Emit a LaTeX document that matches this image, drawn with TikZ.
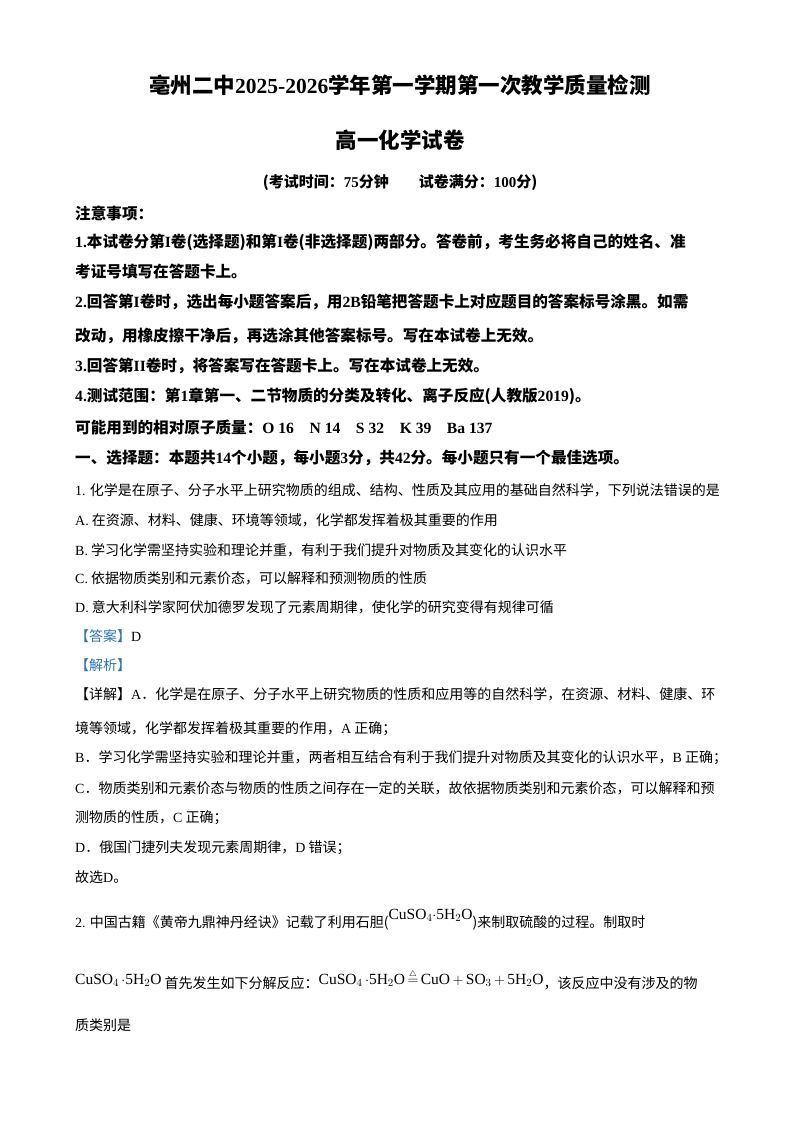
\documentclass[tikz,border=0pt]{standalone}
\usepackage{fontspec}
\setmainfont{Noto Sans CJK SC}
\newfontfamily\tms{Liberation Serif}
\definecolor{ansblue}{RGB}{46,116,181}
\begin{document}
\begin{tikzpicture}[x=1pt,y=-1pt,
  ln/.style={anchor=west,inner sep=0pt,font=\fontsize{14}{16}\selectfont},
  bl/.style={anchor=west,inner sep=0pt,font=\fontsize{15.6}{17}\selectfont\bfseries},
  ttl/.style={anchor=center,inner sep=0pt,font=\fontsize{21.5}{23}\selectfont\bfseries}]
\fill[white] (0,0) rectangle (800,1132);
\node[ttl] (t1) at (400,85) {亳州二中{\tms 2025-2026}学年第一学期第一次教学质量检测};
\node[ttl] (t2) at (400,140) {高一化学试卷};
\node[anchor=center,inner sep=0pt,font=\fontsize{15}{17}\selectfont\bfseries] (t3) at (400,183) {(考试时间：{\tms 75}分钟\hspace{2em}试卷满分：{\tms 100}分)};
\node[bl] (n0) at (75,213) {注意事项：};
\node[bl] (n1) at (75,242) {{\tms 1.}本试卷分第{\tms I}卷(选择题)和第{\tms I}卷(非选择题)两部分。答卷前，考生务必将自己的姓名、准};
\node[bl] (n1b) at (75,272) {考证号填写在答题卡上。};
\node[bl] (n2) at (75,302) {{\tms 2.}回答第{\tms I}卷时，选出每小题答案后，用{\tms 2B}铅笔把答题卡上对应题目的答案标号涂黑。如需};
\node[bl] (n2b) at (75,336) {改动，用橡皮擦干净后，再选涂其他答案标号。写在本试卷上无效。};
\node[bl] (n3) at (75,366) {{\tms 3.}回答第{\tms II}卷时，将答案写在答题卡上。写在本试卷上无效。};
\node[bl] (n4) at (75,396) {{\tms 4.}测试范围：第{\tms 1}章第一、二节物质的分类及转化、离子反应(人教版{\tms 2019})。};
\node[bl] (n5) at (75,428) {可能用到的相对原子质量：{\tms O 16\quad N 14\quad S 32\quad K 39\quad Ba 137}};
\node[bl] (n6) at (75,458) {一、选择题：本题共{\tms 14}个小题，每小题{\tms 3}分，共{\tms 42}分。每小题只有一个最佳选项。};
\node[ln] (q1) at (75,490) {{\tms 1.} 化学是在原子、分子水平上研究物质的组成、结构、性质及其应用的基础自然科学，下列说法错误的是};
\node[ln] (qa) at (75,520) {{\tms A.} 在资源、材料、健康、环境等领域，化学都发挥着极其重要的作用};
\node[ln] (qb) at (75,550) {{\tms B.} 学习化学需坚持实验和理论并重，有利于我们提升对物质及其变化的认识水平};
\node[ln] (qc) at (75,578) {{\tms C.} 依据物质类别和元素价态，可以解释和预测物质的性质};
\node[ln] (qd) at (75,607) {{\tms D.} 意大利科学家阿伏加德罗发现了元素周期律，使化学的研究变得有规律可循};
\node[ln] (ans) at (75,636) {\textcolor{ansblue}{【答案】}{\tms D}};
\node[ln] (jx) at (75,665) {\textcolor{ansblue}{【解析】}};
\node[ln] (x1) at (75,694) {【详解】{\tms A}．化学是在原子、分子水平上研究物质的性质和应用等的自然科学，在资源、材料、健康、环};
\node[ln] (x1b) at (75,729) {境等领域，化学都发挥着极其重要的作用，{\tms A} 正确；};
\node[ln] (x2) at (75,758) {{\tms B}．学习化学需坚持实验和理论并重，两者相互结合有利于我们提升对物质及其变化的认识水平，{\tms B} 正确；};
\node[ln] (x3) at (75,788) {{\tms C}．物质类别和元素价态与物质的性质之间存在一定的关联，故依据物质类别和元素价态，可以解释和预};
\node[ln] (x3b) at (75,818) {测物质的性质，{\tms C} 正确；};
\node[ln] (x4) at (75,848) {{\tms D}．俄国门捷列夫发现元素周期律，{\tms D} 错误；};
\node[ln] (x5) at (75,877) {故选{\tms D}。};
\node[ln] (q2) at (75,920) {{\tms 2.} 中国古籍《黄帝九鼎神丹经诀》记载了利用石胆({\tms\fontsize{15.5}{17}\selectfont\raisebox{8pt}{CuSO$_4\cdot$5H$_2$O}})来制取硫酸的过程。制取时};
\node[ln] (q2b) at (75,980) {{\tms\fontsize{15.5}{17}\selectfont\raisebox{4pt}{CuSO$_4\,\cdot$5H$_2$O}} 首先发生如下分解反应：{\tms\fontsize{15.5}{17}\selectfont\raisebox{4pt}{CuSO$_4\,\cdot$5H$_2$O$\,\stackrel{\scriptscriptstyle\triangle}{=}\,$CuO$\,+\,$SO$_3\,+\,$5H$_2$O}}，该反应中没有涉及的物};
\node[ln] (q2c) at (75,1025) {质类别是};
\end{tikzpicture}
\end{document}
